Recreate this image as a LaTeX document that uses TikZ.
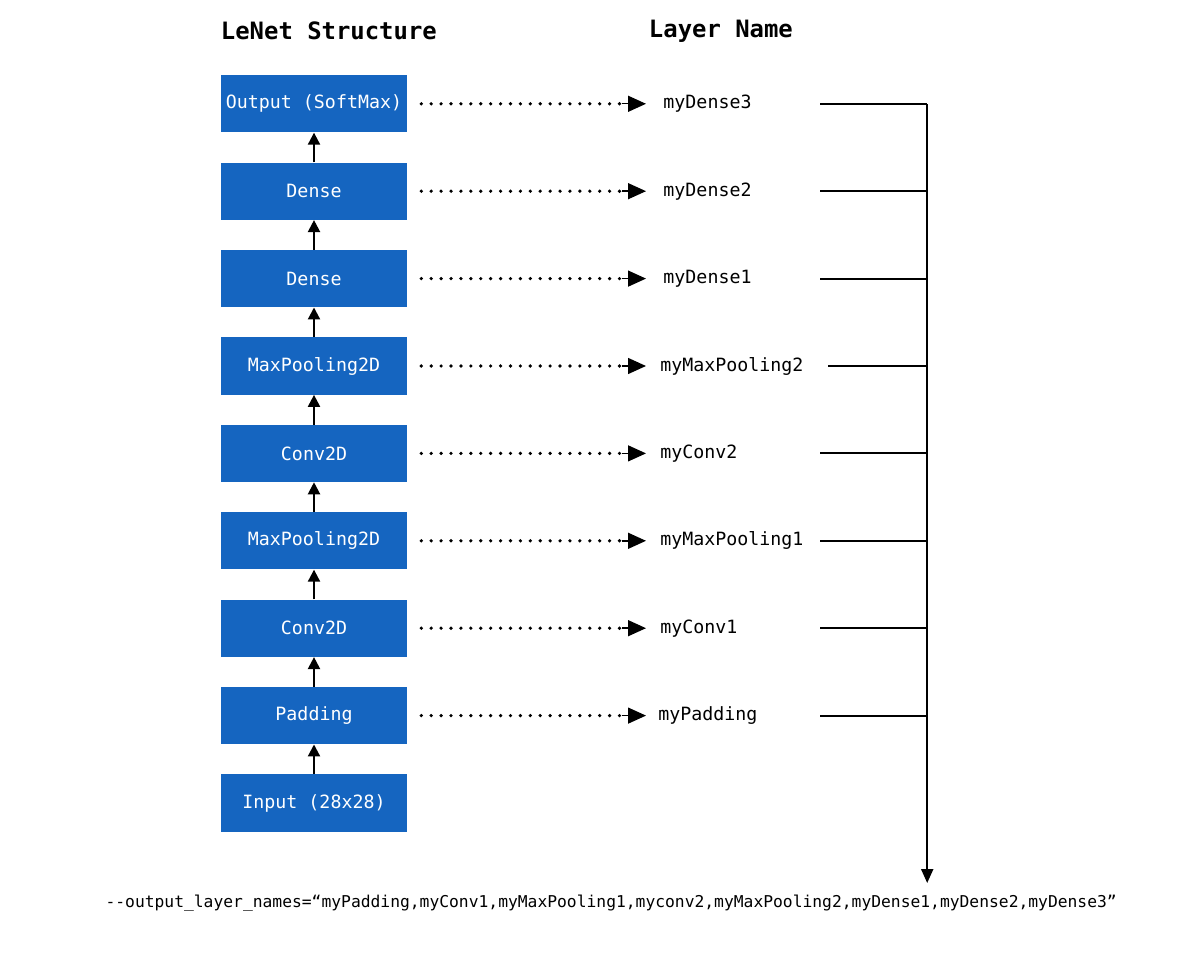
\documentclass[tikz,border=0pt]{standalone}
\usepackage{fontspec}
\setmonofont{DejaVu Sans Mono}
\usetikzlibrary{arrows.meta}
\definecolor{boxblue}{HTML}{1565C0}
\tikzset{
  layer/.style = {fill = boxblue, minimum width = 4.65cm, minimum height = 1.43cm,
    inner sep = 0pt, text = white, font = \ttfamily\fontsize{13}{15}\selectfont},
  lname/.style = {anchor = west, inner sep = 0pt, font = \ttfamily\fontsize{13}{15}\selectfont},
  up/.style = {-{Triangle[length = 0.3cm, width = 0.3cm]}, line width = 1.5pt},
  dots/.style = {line width = 2.6pt, dash pattern = on 0pt off 7.05pt, line cap = round},
  dothead/.style = {-{Triangle[length = 0.45cm, width = 0.4cm]}, line width = 1pt},
  bus/.style = {line width = 1.5pt}
}
\begin{document}
\begin{tikzpicture}
  \useasboundingbox (0, 0) rectangle (30, 23.925);
  % 标题
  \node [font = \ttfamily\bfseries\fontsize{17}{20}\selectfont, anchor = west] (t1) at (5.4, 23.15) {LeNet Structure};
  \node [font = \ttfamily\bfseries\fontsize{17}{20}\selectfont, anchor = west] (t2) at (16.1, 23.15) {Layer Name};
  % 九个层
  \foreach \i/\txt in {0/{Input (28x28)}, 1/Padding, 2/Conv2D, 3/MaxPooling2D, 4/Conv2D,
      5/MaxPooling2D, 6/Dense, 7/Dense, 8/{Output (SoftMax)}}
    \node [layer] (b\i) at (7.85, 3.85 + 2.185*\i) {\txt};
  \foreach \i [evaluate = \i as \j using int(\i+1)] in {0,...,7}
    \draw [up] (b\i) -- (b\j);
  % 层名
  \coordinate (bustop) at (23.18, 21.32);
  \coordinate (busend) at (23.18, 1.85);
  \foreach \i/\txt/\dx/\hx in {1/myPadding/16.45/20.5, 2/myConv1/16.5/20.5, 3/myMaxPooling1/16.5/20.5,
      4/myConv2/16.5/20.5, 5/myMaxPooling2/16.5/20.7, 6/myDense1/16.58/20.5,
      7/myDense2/16.58/20.5, 8/myDense3/16.58/20.5} {
    \node [lname] (n\i) at (\dx, 3.85 + 2.185*\i) {\txt};
    \coordinate (a\i) at (15.55, 3.85 + 2.185*\i);
    \coordinate (e\i) at (16.15, 3.85 + 2.185*\i);
    \draw [dots] ([xshift = 0.35cm]b\i.east) -- (a\i);
    \draw [dothead] (a\i) -- (e\i);
    \coordinate (s\i) at (\hx, 3.85 + 2.185*\i);
    \coordinate (h\i) at (23.18, 3.85 + 2.185*\i);
    \draw [bus] (s\i) -- (h\i);
  }
  \draw [bus, -{Triangle[length = 0.35cm, width = 0.3cm]}] (bustop) -- (busend);
  % 底部命令
  \node [font = \ttfamily\fontsize{11.6}{14}\selectfont] (cmd) at (15.28, 1.35)
    {-{}-output\_layer\_names=“myPadding,myConv1,myMaxPooling1,myconv2,myMaxPooling2,myDense1,myDense2,myDense3”};
\end{tikzpicture}
\end{document}
